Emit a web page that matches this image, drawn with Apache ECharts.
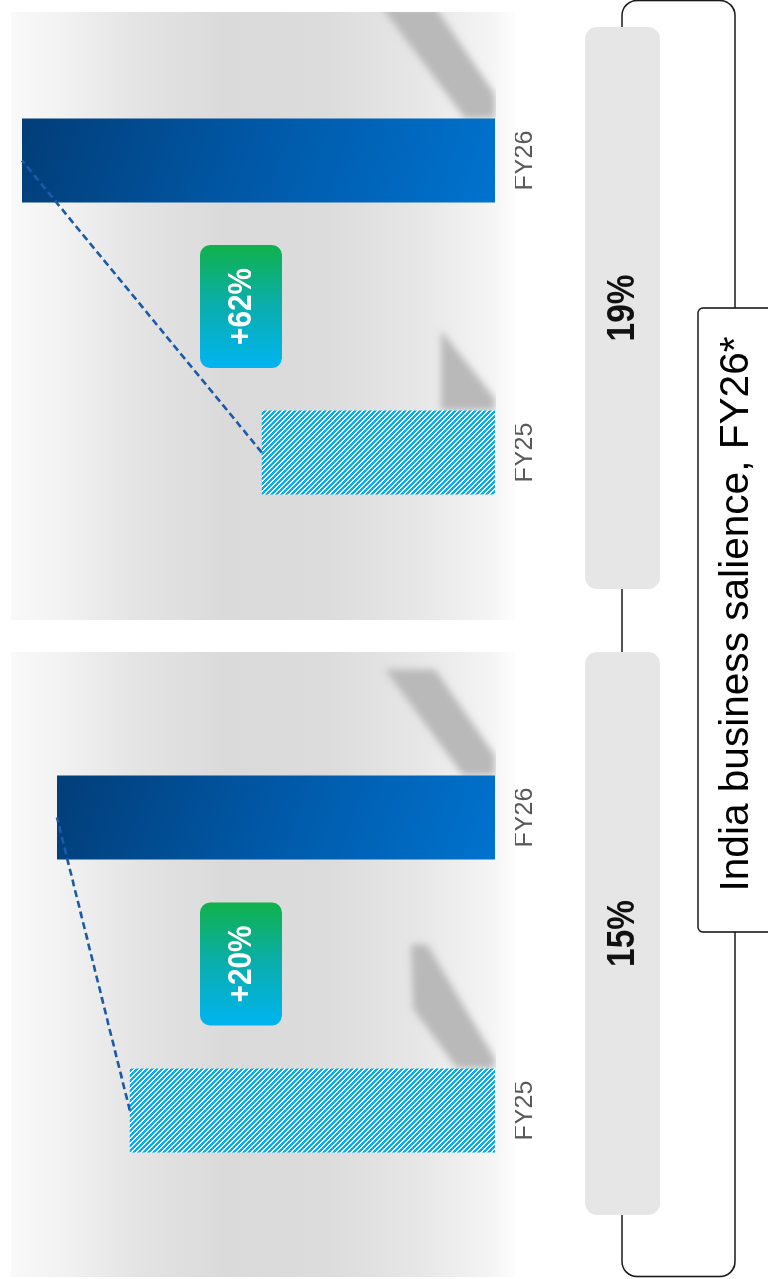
<!DOCTYPE html>
<html>
<head>
<meta charset="utf-8">
<script src="https://cdn.jsdelivr.net/npm/echarts@6/dist/echarts.min.js"></script>
<style>
  html, body { margin: 0; padding: 0; background: #ffffff; overflow: hidden; }
  #stage { position: absolute; left: 0; top: 0; width: 768px; height: 1279px; overflow: hidden; }
  /* chart is laid out landscape and turned a quarter turn, as in the reference */
  #main { position: absolute; left: 0; top: 0; width: 1279px; height: 768px;
          transform-origin: 0 0; transform: translateY(1279px) rotate(-90deg); }
</style>
</head>
<body>
<div id="stage"><div id="main"></div></div>
<script>
// ---------------- data ----------------
const categories = ['FY25', 'FY26'];
const leftPanelValues = [77.2, 92.6];    // bar length index, left panel
const rightPanelValues = [49.3, 100];    // bar length index, right panel
const growthLabels = ['+20%', '+62%'];
const salienceLabels = ['15%', '19%'];
const titleText = 'India business salience, FY26*';

const panelValues = [leftPanelValues, rightPanelValues];

// ---------------- styles ----------------
const FONT = '"Liberation Sans", Arial, Helvetica, sans-serif';

// crisp diagonal hatch tile (cyan with white stripes)
const HP = 5;
const hatch = document.createElement('canvas');
hatch.width = HP; hatch.height = HP;
(function () {
  const c = hatch.getContext('2d');
  const img = c.createImageData(HP, HP);
  for (let y = 0; y < HP; y++) {
    for (let x = 0; x < HP; x++) {
      const k = ((x - y) % HP + HP) % HP;
      const white = k < 2;
      const o = (y * HP + x) * 4;
      img.data[o] = white ? 255 : 0;
      img.data[o + 1] = white ? 255 : 174;
      img.data[o + 2] = white ? 255 : 239;
      img.data[o + 3] = 255;
    }
  }
  c.putImageData(img, 0, 0);
})();

function darkBlue() {
  return new echarts.graphic.LinearGradient(1.4, 0, -0.4, 1, [
    { offset: 0, color: '#023c76' },
    { offset: 0.5, color: '#0059a8' },
    { offset: 1, color: '#0074d0' }
  ]);
}

const chart = echarts.init(document.getElementById('main'), null, { renderer: 'canvas' });

const grids = [
  { left: 22, width: 586, top: 22, bottom: 273 },
  { left: 680.5, width: 584, top: 22, bottom: 273 }
];

const xAxes = grids.map((g, i) => ({
  type: 'category', gridIndex: i, data: categories,
  axisLine: { show: false }, axisTick: { show: false }, splitLine: { show: false },
  axisLabel: { color: '#595959', fontSize: 25, fontFamily: FONT, margin: 18 }
}));
const yAxes = grids.map((g, i) => ({
  type: 'value', gridIndex: i, min: 0, max: 100, show: false
}));

const series = [];
panelValues.forEach((vals, i) => {
  series.push({
    type: 'bar', xAxisIndex: i, yAxisIndex: i, barWidth: 84, z: 3, silent: true,
    data: vals.map((v, j) => ({
      value: v,
      itemStyle: { color: j === 0 ? { image: hatch, repeat: 'repeat' } : darkBlue() }
    }))
  });
  series.push({
    type: 'line', xAxisIndex: i, yAxisIndex: i, data: vals, symbol: 'none', z: 4, silent: true,
    lineStyle: { type: [7, 4], width: 2.6, color: '#1a5aa8' }
  });
});

chart.setOption({ animation: false, grid: grids, xAxis: xAxes, yAxis: yAxes, series: series });

// ---------------- decoration built from the axes ----------------
const bgStops = [
  { offset: 0, color: '#f9f9f9' },
  { offset: 0.1, color: '#f2f2f2' },
  { offset: 0.25, color: '#e4e4e4' },
  { offset: 0.43, color: '#dadada' },
  { offset: 0.63, color: '#dcdcdc' },
  { offset: 0.81, color: '#e7e7e7' },
  { offset: 0.95, color: '#f4f4f4' },
  { offset: 1, color: '#fdfdfd' }
];
const panelBg = () => new echarts.graphic.LinearGradient(0, 11, 0, 515, bgStops, true);
const badgeFill = () => new echarts.graphic.LinearGradient(0, 0, 1, 0, [
  { offset: 0, color: '#00b4f0' },
  { offset: 0.5, color: '#0aaeae' },
  { offset: 1, color: '#10b14c' }
]);

// shadow outlines, as offsets from each bar's outer edge / baseline
const shadowShapes = [
  [ [[0,38],[60,82],[124,84],[124,68],[10,0],[0,0]],
    [[0,32],[106,110],[106,60],[20,0],[0,0]] ],
  [ [[0,54],[80,54],[12,0],[0,0]],
    [[0,30],[112,114],[112,60],[24,0],[0,0]] ]
];
const OFF = 3000;  // draw the shape off-canvas and keep only its blurred shadow

const els = [];
// panel backgrounds
els.push({ type: 'rect', z: 0, silent: true, shape: { x: 2, y: 11, width: 625, height: 504 }, style: { fill: panelBg() } });
els.push({ type: 'rect', z: 0, silent: true, shape: { x: 659, y: 11, width: 608, height: 504 }, style: { fill: panelBg() } });

panelValues.forEach((vals, i) => {
  const base = chart.convertToPixel({ gridIndex: i }, [0, 0])[1];
  const centers = vals.map((v, j) => chart.convertToPixel({ gridIndex: i }, [j, v])[0]);
  vals.forEach((v, j) => {
    const edge = centers[j] + 42;
    els.push({
      type: 'polygon', z: 1, silent: true,
      shape: { points: shadowShapes[i][j].map(p => [edge + p[0] - OFF, base - p[1]]) },
      style: { fill: '#b9b9b9', shadowBlur: 7, shadowColor: '#b9b9b9', shadowOffsetX: OFF, shadowOffsetY: 0 }
    });
  });
  const mid = (centers[0] + centers[1]) / 2;
  els.push({ type: 'rect', z: 10, silent: true,
    shape: { x: mid - 61.5, y: 200, width: 123, height: 82, r: 10 },
    style: { fill: badgeFill() } });
  els.push({ type: 'text', z: 11, silent: true, x: mid, y: 242, scaleX: 0.9,
    style: { x: 0, y: 0, text: growthLabels[i], fill: '#ffffff', font: 'bold 33px ' + FONT,
             align: 'center', verticalAlign: 'middle', textAlign: 'center', textVerticalAlign: 'middle' } });
});
// crisp cut of the shadows at the baseline and the panel ends
els.push({ type: 'rect', z: 2, silent: true, shape: { x: 2, y: 496, width: 1265, height: 19 }, style: { fill: panelBg() } });
els.push({ type: 'rect', z: 2, silent: true, shape: { x: 627, y: 0, width: 32, height: 540 }, style: { fill: '#ffffff' } });
els.push({ type: 'rect', z: 2, silent: true, shape: { x: 1267, y: 0, width: 12, height: 540 }, style: { fill: '#ffffff' } });
els.push({ type: 'rect', z: 2, silent: true, shape: { x: 0, y: 0, width: 1279, height: 11 }, style: { fill: '#ffffff' } });

// bracket, pills, title box
els.push({ type: 'rect', z: 5, silent: true, shape: { x: 2.5, y: 622, width: 1276, height: 113, r: 15 },
  style: { fill: 'none', stroke: '#1a1a1a', lineWidth: 1.6 } });
const pills = [{ x: 64, w: 563 }, { x: 690, w: 562 }];
pills.forEach((p, i) => {
  els.push({ type: 'rect', z: 6, silent: true, shape: { x: p.x, y: 585, width: p.w, height: 75, r: 12 },
    style: { fill: '#e6e6e6' } });
  els.push({ type: 'text', z: 7, silent: true, x: p.x + p.w / 2, y: 624, scaleX: 0.88,
    style: { x: 0, y: 0, text: salienceLabels[i], fill: '#111111', font: 'bold 38px ' + FONT,
             align: 'center', verticalAlign: 'middle', textAlign: 'center', textVerticalAlign: 'middle' } });
});
els.push({ type: 'rect', z: 6, silent: true, shape: { x: 347, y: 698, width: 624, height: 110, r: 5 },
  style: { fill: '#ffffff', stroke: '#1a1a1a', lineWidth: 1.6 } });
els.push({ type: 'text', z: 7, silent: true, x: 665, y: 737, scaleX: 0.99,
  style: { x: 0, y: 0, text: titleText, fill: '#000000', font: '41px ' + FONT,
           align: 'center', verticalAlign: 'middle', textAlign: 'center', textVerticalAlign: 'middle' } });

chart.setOption({ graphic: { elements: els } });
</script>
</body>
</html>
